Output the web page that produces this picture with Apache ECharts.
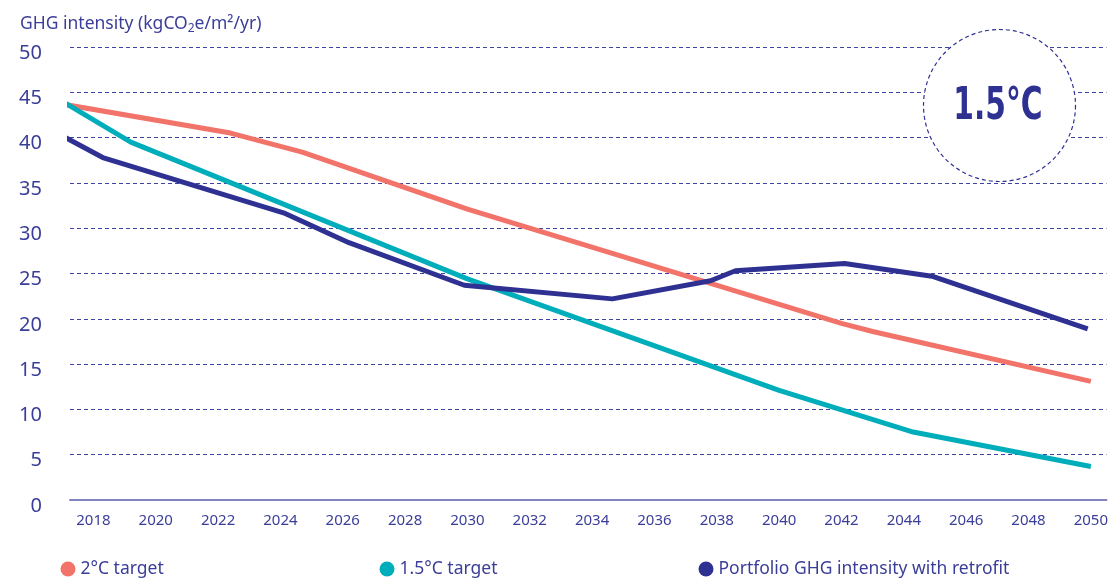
<!DOCTYPE html>
<html>
<head>
<meta charset="utf-8">
<style>
  html, body { margin: 0; padding: 0; background: #fff; }
  #main { width: 1111px; height: 579px; }
</style>
<script src="https://cdn.jsdelivr.net/npm/echarts@6/dist/echarts.min.js"></script>
</head>
<body>
<div id="main"></div>
<script>
// values (year, kgCO2e/m2/yr) at the visible vertices of each line
var years2C = [2017, 2022.4, 2024.7, 2030, 2042, 2043, 2050];
var values2C = [43.7, 40.5, 38.4, 32.1, 19.5, 18.6, 13.1];

var years15C = [2017, 2019.2, 2030, 2040, 2044.3, 2050];
var values15C = [44.0, 39.5, 24.4, 12.1, 7.5, 3.7];

var yearsPortfolio = [2017, 2018.3, 2024.1, 2026.2, 2029.9, 2034.65, 2037.8, 2038.6, 2042.1, 2044.9, 2049.9];
var valuesPortfolio = [40.2, 37.8, 31.7, 28.4, 23.7, 22.2, 24.2, 25.3, 26.1, 24.7, 18.9];

var yearLabels = [2018, 2020, 2022, 2024, 2026, 2028, 2030, 2032, 2034, 2036, 2038, 2040, 2042, 2044, 2046, 2048, 2050];
var seriesNames = ['2°C target', '1.5°C target', 'Portfolio GHG intensity with retrofit'];

var RED = '#F2736A';
var CYAN = '#00ADBA';
var NAVY = '#2E3192';
var TEXT = '#3B3E98';
var FONT = '"Noto Sans", sans-serif';

function pairs(xs, ys) {
  var out = [];
  for (var i = 0; i < xs.length; i++) out.push([xs[i], ys[i]]);
  return out;
}

function lineSeries(name, xs, ys, color) {
  return {
    name: name,
    type: 'line',
    data: pairs(xs, ys),
    symbol: 'none',
    clip: false,
    lineStyle: { color: color, width: 5, cap: 'butt', join: 'round' },
    itemStyle: { color: color },
    emphasis: { disabled: true }
  };
}

function legendAt(left, name) {
  return {
    left: left,
    top: 560,
    padding: 0,
    data: [name],
    icon: 'circle',
    itemWidth: 15,
    itemHeight: 15,
    itemGap: 0,
    itemTextGap: 5,
    selectedMode: false,
    textStyle: { color: TEXT, fontSize: 17.5, fontFamily: FONT }
  };
}

var myChart = echarts.init(document.getElementById('main'));

myChart.setOption({
  backgroundColor: '#fff',
  animation: false,
  title: {
    text: 'GHG intensity (kgCO{sub|2}e/m²/yr)',
    left: 15,
    top: 8,
    textStyle: {
      color: TEXT,
      fontSize: 17.5,
      fontWeight: 'normal',
      fontFamily: FONT,
      rich: {
        sub: { color: TEXT, fontSize: 12, fontFamily: FONT, padding: [10, 0, 0, 0] }
      }
    }
  },
  legend: [
    legendAt(60.5, seriesNames[0]),
    legendAt(379.5, seriesNames[1]),
    legendAt(698.5, seriesNames[2])
  ],
  grid: { left: 70, right: 4, top: 47, bottom: 79 },
  xAxis: {
    type: 'value',
    min: 2017.25,
    max: 2050.5,
    axisLine: { show: true, lineStyle: { color: '#8284C2', width: 2 } },
    axisTick: { show: false },
    splitLine: { show: false },
    axisLabel: {
      customValues: yearLabels,
      formatter: function (v) { return String(v); },
      color: TEXT,
      fontSize: 15,
      fontFamily: FONT,
      margin: 13
    }
  },
  yAxis: {
    type: 'value',
    min: 0,
    max: 50,
    interval: 5,
    axisLine: { show: false },
    axisTick: { show: false },
    axisLabel: {
      color: TEXT,
      fontSize: 20,
      fontFamily: FONT,
      margin: 28,
      verticalAlign: 'top',
      lineHeight: 12
    },
    splitLine: {
      show: true,
      lineStyle: { color: '#3F42A0', width: 1, type: [4, 3] }
    }
  },
  graphic: [
    {
      type: 'circle',
      shape: { cx: 999.5, cy: 105.5, r: 76 },
      style: { fill: '#fff', stroke: NAVY, lineWidth: 1.2, lineDash: [4, 3] },
      z: 100
    },
    {
      type: 'text',
      x: 998,
      y: 107,
      scaleX: 0.66,
      style: {
        text: '1.5°C',
        fill: NAVY,
        font: '900 45px "DejaVu Sans", sans-serif',
        align: 'center',
        verticalAlign: 'middle'
      },
      z: 101
    }
  ],
  series: [
    lineSeries(seriesNames[0], years2C, values2C, RED),
    lineSeries(seriesNames[1], years15C, values15C, CYAN),
    lineSeries(seriesNames[2], yearsPortfolio, valuesPortfolio, NAVY)
  ]
});
</script>
</body>
</html>
